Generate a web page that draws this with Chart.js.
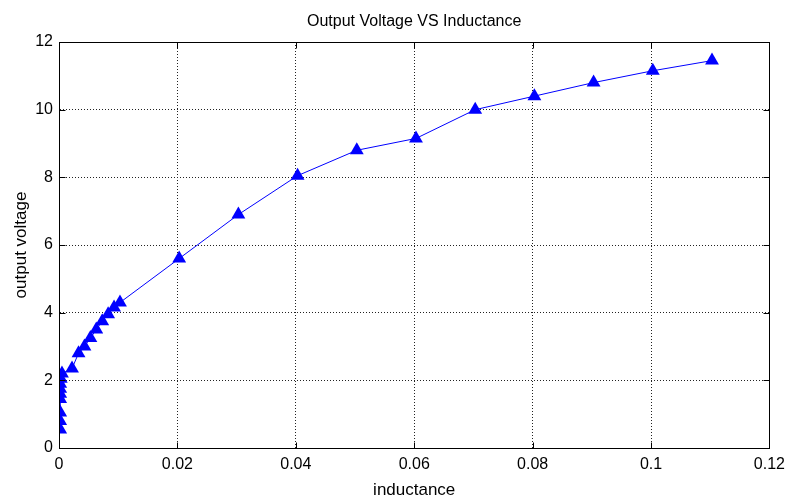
<!DOCTYPE html>
<html>
<head>
<meta charset="utf-8">
<script src="https://cdn.jsdelivr.net/npm/chart.js@4"></script>
<style>
  body { margin: 0; background: #fff; }
  #wrap { width: 792px; height: 501px; }
</style>
</head>
<body>
<div id="wrap"><canvas id="grafico" width="792" height="501"></canvas></div>
<script>
const inductance = [
  0.0002, 0.0002, 0.0002, 0.0002, 0.0002, 0.0002, 0.0002, 0.0003, 0.0005,
  0.0022, 0.0033, 0.0043, 0.0053, 0.0063, 0.0073, 0.0083, 0.0093, 0.0103,
  0.0203, 0.0303, 0.0403, 0.0503, 0.0603, 0.0703, 0.0803, 0.0903, 0.1003, 0.1103,
]
const outputVoltage = [
  0.55, 0.8, 1.05, 1.45, 1.6, 1.75, 1.9, 2.05, 2.2,
  2.35, 2.8, 3.0, 3.25, 3.5, 3.75, 3.95, 4.15, 4.3,
  5.6, 6.9, 8.05, 8.8, 9.15, 10.0, 10.4, 10.8, 11.15, 11.45,
]
const xTicks = [0, 0.02, 0.04, 0.06, 0.08, 0.1, 0.12]
const yTicks = [0, 2, 4, 6, 8, 10, 12]

const points = inductance.map((x, i) => ({ x: x, y: outputVoltage[i] }))

const fuente = "'Liberation Sans', Arial, sans-serif"

// caja alrededor del area del grafico, con marcas hacia adentro
const caja = {
  id: "caja",
  afterDatasetsDraw(chart) {
    const a = chart.chartArea
    const ctx = chart.ctx
    const L = Math.round(a.left) + 0.5
    const R = Math.round(a.right) + 0.5
    const T = Math.round(a.top) + 0.5
    const B = Math.round(a.bottom) + 0.5
    ctx.save()
    ctx.strokeStyle = "#000"
    ctx.lineWidth = 1
    ctx.strokeRect(L, T, R - L, B - T)
    ctx.beginPath()
    xTicks.forEach(v => {
      const px = Math.round(chart.scales.x.getPixelForValue(v)) + 0.5
      ctx.moveTo(px, B); ctx.lineTo(px, B - 6)
      ctx.moveTo(px, T); ctx.lineTo(px, T + 6)
    })
    yTicks.forEach(v => {
      const py = Math.round(chart.scales.y.getPixelForValue(v)) + 0.5
      ctx.moveTo(L, py); ctx.lineTo(L + 6, py)
      ctx.moveTo(R, py); ctx.lineTo(R - 6, py)
    })
    ctx.stroke()
    ctx.restore()
  },
}

const graph = document.querySelector("#grafico")
const config = {
  type: "scatter",
  data: {
    datasets: [
      {
        label: "output voltage",
        data: points,
        showLine: true,
        borderColor: "#0000ff",
        borderWidth: 1,
        backgroundColor: "#0000ff",
        pointStyle: "triangle",
        pointRadius: 8,
        pointBorderWidth: 0,
      },
    ],
  },
  options: {
    responsive: false,
    animation: false,
    layout: { padding: { right: 21 } },
    plugins: {
      legend: { display: false },
      tooltip: { enabled: false },
      title: {
        display: true,
        fullSize: false,
        text: "Output Voltage VS Inductance",
        color: "#000",
        font: { family: fuente, size: 16, weight: "normal" },
        padding: { top: 12.4, bottom: 10.4 },
      },
    },
    scales: {
      x: {
        type: "linear",
        min: 0,
        max: 0.12,
        afterFit(s) { s.height = 53 },
        afterBuildTicks(s) { s.ticks = xTicks.map(v => ({ value: v })) },
        ticks: {
          color: "#000",
          font: { family: fuente, size: 16 },
          padding: 7,
          maxRotation: 0,
          callback: v => String(Number(v.toFixed(2))),
        },
        grid: { color: "#222", drawTicks: false, tickLength: 0 },
        border: { display: true, color: "#000", dash: [1, 2] },
        title: {
          display: true,
          text: "inductance",
          color: "#000",
          font: { family: fuente, size: 17 },
          padding: { top: 2, bottom: 0 },
        },
      },
      y: {
        min: 0,
        max: 12,
        afterFit(s) { s.width = 59 },
        afterBuildTicks(s) { s.ticks = yTicks.map(v => ({ value: v })) },
        ticks: {
          color: "#000",
          font: { family: fuente, size: 16 },
          padding: 6,
        },
        grid: { color: "#222", drawTicks: false, tickLength: 0 },
        border: { display: true, color: "#000", dash: [1, 2] },
        title: {
          display: true,
          text: "output voltage",
          color: "#000",
          font: { family: fuente, size: 17 },
          padding: { top: 11, bottom: 0 },
        },
      },
    },
  },
  plugins: [caja],
}

new Chart(graph, config)
</script>
</body>
</html>
